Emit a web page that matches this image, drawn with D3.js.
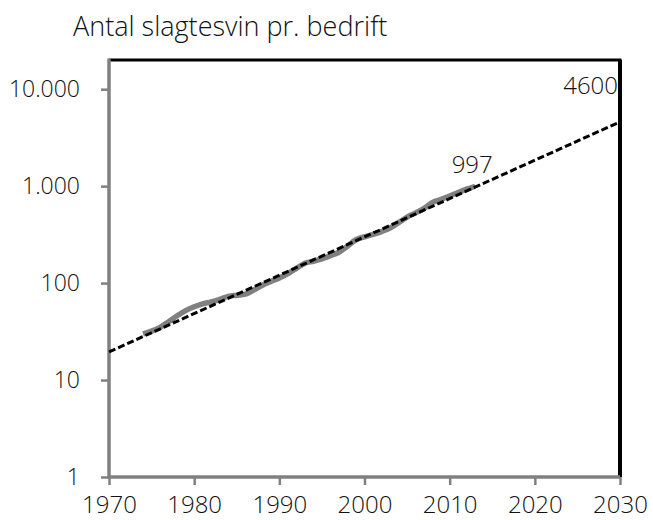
<!DOCTYPE html>
<html>
<head>
<meta charset="utf-8">
<script src="https://cdn.jsdelivr.net/npm/d3@7"></script>
<style>
  html, body { margin: 0; padding: 0; background: #fff; }
  svg { display: block; font-family: "Open Sans", "Noto Sans", sans-serif; font-weight: 300; }
</style>
</head>
<body>
<svg id="chart" width="653" height="520"></svg>
<script>
// ---- data ----
const title = "Antal slagtesvin pr. bedrift";
const years = [1974,1975,1976,1977,1978,1979,1980,1981,1982,1983,1984,1985,1986,1987,1988,1989,1990,1991,1992,1993,1994,1995,1996,1997,1998,1999,2000,2001,2002,2003,2004,2005,2006,2007,2008,2009,2010,2011,2012,2013];
const pigs = [30,32,35,40,46,52,57,61,64,68,73,75,77,85,95,104,113,125,142,160,168,178,192,208,240,280,300,318,340,370,420,480,530,590,680,730,790,860,930,997];
const trendYears = [1970, 2030];
const trendValues = [19.5, 4600];
const xTicks = [1970,1980,1990,2000,2010,2020,2030];
const yTicks = [1,10,100,1000,10000];
const labelLast = "997";
const labelTrend = "4600";

// ---- layout ----
const svg = d3.select("#chart");
const pL = 109, pR = 620, pT = 60, pB = 477;
const ff = "\"Open Sans\", \"Noto Sans\", sans-serif";

const x = d3.scaleLinear().domain([1970, 2030]).range([pL, pR]);
const y = d3.scaleLog().domain([1, 20000]).range([pB, pT]);

const loc = d3.formatLocale({decimal: ",", thousands: ".", grouping: [3], currency: ["", ""]});
const fmt = loc.format(",d");

// title
svg.append("text").attr("x", 73).attr("y", 36)
  .attr("font-size", 27).attr("fill", "#111").text(title);

// top & right border (black)
svg.append("line").attr("x1", pL).attr("x2", pR + 1.5).attr("y1", pT).attr("y2", pT)
  .attr("stroke", "#000").attr("stroke-width", 3);
svg.append("line").attr("x1", pR).attr("x2", pR).attr("y1", pT).attr("y2", pB)
  .attr("stroke", "#000").attr("stroke-width", 4);

// y axis
const yAxis = svg.append("g").attr("transform", `translate(${pL},0)`)
  .call(d3.axisLeft(y).tickValues(yTicks).tickFormat(fmt).tickSize(8).tickPadding(21));
yAxis.select(".domain").attr("stroke", "#808080").attr("stroke-width", 3.5)
  .attr("d", `M0,${pT - 1.5}V${pB + 1}`);
yAxis.selectAll(".tick line").attr("stroke", "#808080").attr("stroke-width", 2.5);
yAxis.selectAll(".tick text").attr("font-size", 23).attr("fill", "#111")
  .attr("font-family", ff).attr("font-weight", 300);

// x axis
const xAxis = svg.append("g").attr("transform", `translate(0,${pB})`)
  .call(d3.axisBottom(x).tickValues(xTicks).tickFormat(d3.format("d")).tickSize(8).tickPadding(11));
xAxis.select(".domain").attr("stroke", "#808080").attr("stroke-width", 3.5)
  .attr("d", `M${pL - 1.5},0H${pR}`);
xAxis.selectAll(".tick line").attr("stroke", "#808080").attr("stroke-width", 2.5);
xAxis.selectAll(".tick text").attr("font-size", 24).attr("fill", "#111")
  .attr("font-family", ff).attr("font-weight", 300);

// data line (grey)
const line = d3.line().x((d, i) => x(years[i])).y(d => y(d)).curve(d3.curveMonotoneX);
svg.append("path").datum(pigs).attr("d", line)
  .attr("fill", "none").attr("stroke", "#808080").attr("stroke-width", 5.5)
  .attr("stroke-linejoin", "round").attr("stroke-linecap", "butt");

// trend line (dashed)
const tline = d3.line().x((d, i) => x(trendYears[i])).y(d => y(d));
svg.append("path").datum(trendValues).attr("d", tline)
  .attr("fill", "none").attr("stroke", "#000").attr("stroke-width", 3)
  .attr("stroke-dasharray", "7,3");

// labels
const lastI = years.length - 1;
svg.append("text").attr("x", x(years[lastI]) - 3).attr("y", y(pigs[lastI]) - 13)
  .attr("text-anchor", "middle").attr("font-size", 24).attr("fill", "#111").text(labelLast);
svg.append("text").attr("x", pR - 2).attr("y", y(trendValues[1]) - 28)
  .attr("text-anchor", "end").attr("font-size", 24).attr("fill", "#111").text(labelTrend);
</script>
</body>
</html>
